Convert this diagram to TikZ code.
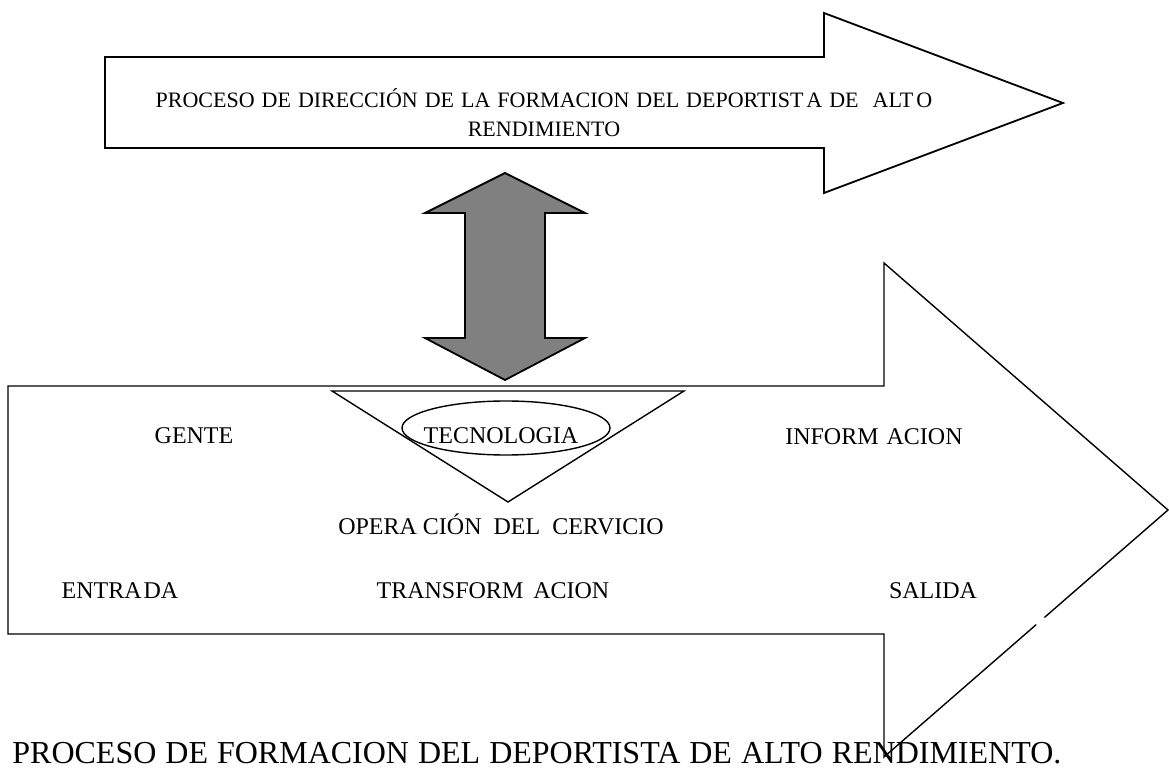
\documentclass[tikz,border=0pt]{standalone}
\usepackage{fontspec}
\setmainfont{Liberation Serif}
\newcommand\widespaces[1]{\spaceskip=#1\relax}
\tikzset{
	arrowline/.style={draw, line width=0.9pt, line join=miter},
	thinline/.style={draw, line width=0.7pt},
	toptext/.style={font=\fontsize{11}{13}\selectfont\widespaces{3.5pt}, inner sep=0pt, anchor=base},
	flowtext/.style={font=\fontsize{12}{14}\selectfont, inner sep=0pt, anchor=base},
	titletext/.style={font=\fontsize{16}{18}\selectfont\widespaces{4.5pt}, inner sep=0pt, anchor=base west}
}
\begin{document}
\begin{tikzpicture}[x=0.5pt,y=-0.5pt]

					\useasboundingbox (0,0) rectangle (1169,770);

					% upper arrow
					\draw [arrowline] (105,57) -- (824,57) -- (824,13) -- (1063,103) -- (824,193) -- (824,148) -- (105,148) -- cycle;
					\node [toptext] (direccion) at (544,108) {PROCESO DE DIRECCIÓN DE LA FORMACION DEL DEPORTIST\kern1.5pt A DE \ ALT\kern1.5pt O};
					\node [toptext] (rendimiento) at (544,137) {RENDIMIENTO};

					% double arrow
					\draw [arrowline, fill=gray] (505,173) -- (585,213) -- (545,213) -- (545,338) -- (585,338) -- (505,380) -- (425,338) -- (465,338) -- (465,213) -- (425,213) -- cycle;

					% lower arrow
					\draw [thinline] (8,386) -- (884,386) -- (884,263) -- (1168,510) -- (884,757) -- (884,634) -- (8,634) -- cycle;
					\fill [white] (1042,623) circle [radius=6];

					% triangle and ellipse
					\draw [thinline] (332,391) -- (684,391) -- (508,502) -- cycle;
					\draw [thinline] (506,428) ellipse [x radius=104, y radius=27];

					% labels
					\node [flowtext] (gente) at (194,444) {GENTE};
					\node [flowtext] (tecnologia) at (501,444) {TECNOLOGIA};
					\node [flowtext] (informacion) at (874,445) {INFORM\kern4pt ACION};
					\node [flowtext] (operacion) at (501,535) {OPERA\kern3pt CIÓN \ DEL \ CERVICIO};
					\node [flowtext] (entrada) at (120,598) {ENTRA\kern1pt DA};
					\node [flowtext] (transformacion) at (493,598) {TRANSFORM\kern5pt ACION};
					\node [flowtext] (salida) at (933,598) {SALIDA};

					\node [titletext] (titulo) at (12,763) {PROCESO DE FORMACION DEL DEPORTISTA DE ALTO RENDIMIENTO.};

				\end{tikzpicture}
\end{document}
